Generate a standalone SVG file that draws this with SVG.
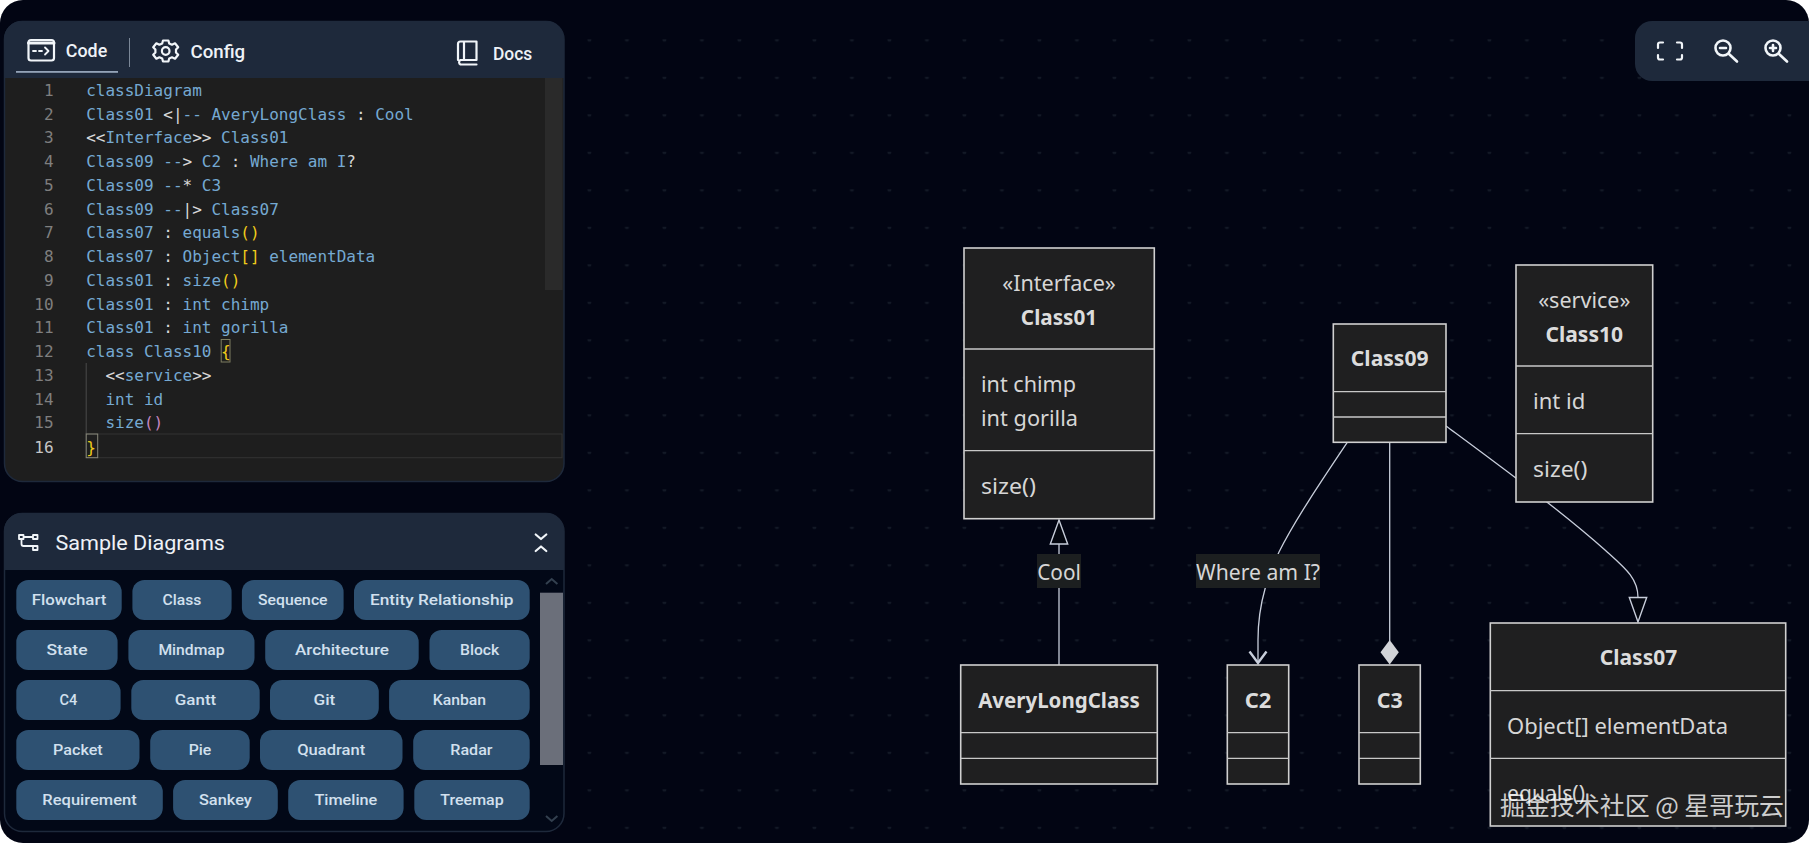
<svg xmlns="http://www.w3.org/2000/svg" width="1809" height="843" viewBox="0 0 1809 843">
<defs>
<pattern id="dots" patternUnits="userSpaceOnUse" x="26.5" y="1.8" width="37.5" height="37.5"><circle cx="0.8" cy="0.8" r="1.5" fill="#131926"/><circle cx="37.5" cy="0.8" r="1.5" fill="#131926"/></pattern>
</defs>
<style>
.box{fill:#1f1f20;stroke:#d0d0d0;stroke-width:1.6}
.div{stroke:#c8c8c8;stroke-width:1.3;fill:none}
.dt{font-family:"Noto Sans",sans-serif;font-size:21px;fill:#d6d6d6}
.dh{font-family:"Noto Sans",sans-serif;font-size:21px;font-weight:700;fill:#dcdcdc;text-anchor:middle}
.ds{font-family:"Noto Sans",sans-serif;font-size:21px;fill:#d6d6d6;text-anchor:middle}
.edge{fill:none;stroke:#c8cedb;stroke-width:1.3}
.head{fill:#03060f;stroke:#c8cedb;stroke-width:1.4}
.lb{fill:#1c1f20}
.code{font-family:"DejaVu Sans Mono",monospace;font-size:16px;fill:#75a9d2;white-space:pre}
.w{fill:#d8d8d8}.y{fill:#f0cc1a}.p{fill:#c586c0}
.ln{font-family:"DejaVu Sans Mono",monospace;font-size:16px;fill:#7f7f7f;text-anchor:end}
.ui{font-family:Roboto,sans-serif;font-size:18px;font-weight:500;fill:#eef2f7}
.btn{fill:#2e5172}
.bt{font-family:Roboto,sans-serif;font-size:15.500px;font-weight:500;fill:#d2e0ee;text-anchor:middle}
.ic{fill:none;stroke:#f1f5f9;stroke-width:2.200;stroke-linecap:round;stroke-linejoin:round}
</style>

<rect width="1809" height="843" fill="#ffffff"/>
<rect width="1809" height="843" rx="23" fill="#020513"/>
<rect x="575" y="20" width="1234" height="823" fill="url(#dots)"/>

<g id="code-panel">
<rect x="4.500" y="21.500" width="559.500" height="460" rx="18" fill="#1e1e1e" stroke="#1e293b" stroke-width="1.500"/>
<path d="M4 78V39a18 18 0 0 1 18-18H546a18 18 0 0 1 18 18V78Z" fill="#1e293b"/>
<rect x="545" y="78" width="17.500" height="212" fill="#2a2a2a"/>
<rect x="16" y="71" width="102" height="1.800" fill="#94a3b8"/>
<rect x="129" y="38" width="1" height="29" fill="#7b8797"/>
<rect x="28.500" y="40" width="25.500" height="20.500" rx="2.500" class="ic"/>
<path d="M28.500 43H54" class="ic" style="stroke-width:3"/>
<path d="M33 51H36M39 51H42M45 47.500L48.500 51L45 54.500" class="ic" style="stroke-width:1.800"/>
<text x="65.800" y="56.500" class="ui" textLength="41.400" lengthAdjust="spacingAndGlyphs">Code</text>
<circle cx="165.700" cy="51" r="3.800" class="ic"/>
<path d="M163 40.500h5.400l.8 3 2.800 1.200 3-1.400 3.200 4-2.200 2.300v2.800l2.200 2.300-3.200 4-3-1.400-2.800 1.200-.8 3h-5.400l-.8-3-2.800-1.200-3 1.400-3.200-4 2.200-2.300v-2.800l-2.200-2.300 3.200-4 3 1.400 2.800-1.200Z" class="ic"/>
<text x="190.500" y="57.500" class="ui" textLength="54.700" lengthAdjust="spacingAndGlyphs">Config</text>
<path d="M458 60V44a2.500 2.500 0 0 1 2.500-2.500H476.500V60H460.500a2.500 2.500 0 0 0 0 4.500H476.500" class="ic"/>
<path d="M464 42V59" class="ic"/>
<text x="493" y="60" class="ui" textLength="39.300" lengthAdjust="spacingAndGlyphs">Docs</text>

<rect x="86.200" y="434" width="475.800" height="23.700" fill="none" stroke="#333" stroke-width="1"/>
<path d="M86.200 363V434" stroke="#4a4a4a" stroke-width="1" fill="none"/>
<rect x="221.200" y="339.500" width="8.800" height="22.500" fill="none" stroke="#7d7d60" stroke-width="1"/>
<rect x="86.200" y="434" width="11.500" height="23.700" fill="none" stroke="#88887a" stroke-width="1"/>

<g id="line-numbers">
<text x="53.600" y="96" class="ln">1</text><text x="53.600" y="120" class="ln">2</text><text x="53.600" y="143" class="ln">3</text><text x="53.600" y="167" class="ln">4</text><text x="53.600" y="191" class="ln">5</text><text x="53.600" y="214.500" class="ln">6</text><text x="53.600" y="238" class="ln">7</text><text x="53.600" y="262" class="ln">8</text><text x="53.600" y="285.500" class="ln">9</text><text x="53.600" y="309.500" class="ln">10</text><text x="53.600" y="333" class="ln">11</text><text x="53.600" y="357" class="ln">12</text><text x="53.600" y="381" class="ln">13</text><text x="53.600" y="404.500" class="ln">14</text><text x="53.600" y="428" class="ln">15</text><text x="53.600" y="452.500" class="ln" style="fill:#c6c6c6">16</text>
</g>
<text x="86.200" y="96" class="code" xml:space="preserve">classDiagram</text>
<text x="86.200" y="120" class="code" xml:space="preserve">Class01 <tspan class="w">&lt;|</tspan>-- AveryLongClass <tspan class="w">:</tspan> Cool</text>
<text x="86.200" y="143" class="code" xml:space="preserve"><tspan class="w">&lt;&lt;</tspan>Interface<tspan class="w">&gt;&gt;</tspan> Class01</text>
<text x="86.200" y="167" class="code" xml:space="preserve">Class09 --<tspan class="w">&gt;</tspan> C2 <tspan class="w">:</tspan> Where am I<tspan class="w">?</tspan></text>
<text x="86.200" y="191" class="code" xml:space="preserve">Class09 --<tspan class="w">*</tspan> C3</text>
<text x="86.200" y="214.500" class="code" xml:space="preserve">Class09 --<tspan class="w">|&gt;</tspan> Class07</text>
<text x="86.200" y="238" class="code" xml:space="preserve">Class07 <tspan class="w">:</tspan> equals<tspan class="y">()</tspan></text>
<text x="86.200" y="262" class="code" xml:space="preserve">Class07 <tspan class="w">:</tspan> Object<tspan class="y">[]</tspan> elementData</text>
<text x="86.200" y="285.500" class="code" xml:space="preserve">Class01 <tspan class="w">:</tspan> size<tspan class="y">()</tspan></text>
<text x="86.200" y="309.500" class="code" xml:space="preserve">Class01 <tspan class="w">:</tspan> int chimp</text>
<text x="86.200" y="333" class="code" xml:space="preserve">Class01 <tspan class="w">:</tspan> int gorilla</text>
<text x="86.200" y="357" class="code" xml:space="preserve">class Class10 <tspan class="y">{</tspan></text>
<text x="86.200" y="381" class="code" xml:space="preserve">  <tspan class="w">&lt;&lt;</tspan>service<tspan class="w">&gt;&gt;</tspan></text>
<text x="86.200" y="404.500" class="code" xml:space="preserve">  int id</text>
<text x="86.200" y="428" class="code" xml:space="preserve">  size<tspan class="p">()</tspan></text>
<text x="86.200" y="452.500" class="code" xml:space="preserve"><tspan class="y">}</tspan></text>
</g>

<g id="sample-panel">
<rect x="4.500" y="513.500" width="559.500" height="318" rx="18" fill="#020817" stroke="#1e293b" stroke-width="1.500"/>
<path d="M4 570V531a18 18 0 0 1 18-18H546a18 18 0 0 1 18 18V570Z" fill="#1e293b"/>
<path d="M19 535h4.500v4h-4.500ZM33 535h4.500v4h-4.500ZM33 546h4.500v4h-4.500ZM21.500 539v5q0 2 2 2h9.500M23.500 537h9.500" class="ic" style="stroke-width:1.800"/>
<text x="55.500" y="550" class="ui" style="font-size:20px;font-weight:400" textLength="169.500" lengthAdjust="spacingAndGlyphs">Sample Diagrams</text>
<path d="M535.700 534.500l5.300 4.500 5.300-4.500M535.700 551l5.300-4.500 5.300 4.500" class="ic"/>
<rect x="540" y="592.700" width="23" height="172.300" fill="#6b6f7a"/>
<path d="M546 584l5.700-5 5.700 5M546 816l5.700 5 5.700-5" fill="none" stroke="#33404f" stroke-width="2"/>
<g id="buttons">
<rect class="btn" x="16.300" y="580" width="105.400" height="40" rx="12"/><text class="bt" x="69" y="605" textLength="74.700" lengthAdjust="spacingAndGlyphs">Flowchart</text>
<rect class="btn" x="132.400" y="580" width="99.200" height="40" rx="12"/><text class="bt" x="182" y="605" textLength="38.800" lengthAdjust="spacingAndGlyphs">Class</text>
<rect class="btn" x="241.900" y="580" width="101.700" height="40" rx="12"/><text class="bt" x="292.800" y="605" textLength="69.500" lengthAdjust="spacingAndGlyphs">Sequence</text>
<rect class="btn" x="354" y="580" width="175.700" height="40" rx="12"/><text class="bt" x="441.800" y="605" textLength="143.500" lengthAdjust="spacingAndGlyphs">Entity Relationship</text>
<rect class="btn" x="16.300" y="630" width="101.300" height="40" rx="12"/><text class="bt" x="67" y="655" textLength="41" lengthAdjust="spacingAndGlyphs">State</text>
<rect class="btn" x="128.400" y="630" width="126.100" height="40" rx="12"/><text class="bt" x="191.500" y="655" textLength="66.200" lengthAdjust="spacingAndGlyphs">Mindmap</text>
<rect class="btn" x="265.200" y="630" width="153.500" height="40" rx="12"/><text class="bt" x="342" y="655" textLength="94" lengthAdjust="spacingAndGlyphs">Architecture</text>
<rect class="btn" x="429.500" y="630" width="100.200" height="40" rx="12"/><text class="bt" x="479.600" y="655" textLength="39.200" lengthAdjust="spacingAndGlyphs">Block</text>
<rect class="btn" x="16.300" y="680" width="104.300" height="40" rx="12"/><text class="bt" x="68.400" y="705" textLength="17.800" lengthAdjust="spacingAndGlyphs">C4</text>
<rect class="btn" x="131.300" y="680" width="128.400" height="40" rx="12"/><text class="bt" x="195.500" y="705" textLength="41.400" lengthAdjust="spacingAndGlyphs">Gantt</text>
<rect class="btn" x="270" y="680" width="108.800" height="40" rx="12"/><text class="bt" x="324.400" y="705" textLength="21.800" lengthAdjust="spacingAndGlyphs">Git</text>
<rect class="btn" x="389.100" y="680" width="140.600" height="40" rx="12"/><text class="bt" x="459.400" y="705" textLength="53.300" lengthAdjust="spacingAndGlyphs">Kanban</text>
<rect class="btn" x="16.300" y="730" width="123.200" height="40" rx="12"/><text class="bt" x="77.900" y="755" textLength="49.600" lengthAdjust="spacingAndGlyphs">Packet</text>
<rect class="btn" x="150.200" y="730" width="99.500" height="40" rx="12"/><text class="bt" x="200" y="755" textLength="22.600" lengthAdjust="spacingAndGlyphs">Pie</text>
<rect class="btn" x="260" y="730" width="142.500" height="40" rx="12"/><text class="bt" x="331.200" y="755" textLength="68" lengthAdjust="spacingAndGlyphs">Quadrant</text>
<rect class="btn" x="413.200" y="730" width="116.500" height="40" rx="12"/><text class="bt" x="471.400" y="755" textLength="42.200" lengthAdjust="spacingAndGlyphs">Radar</text>
<rect class="btn" x="16.300" y="780" width="146.500" height="40" rx="12"/><text class="bt" x="89.500" y="805" textLength="94.300" lengthAdjust="spacingAndGlyphs">Requirement</text>
<rect class="btn" x="173.100" y="780" width="104.700" height="40" rx="12"/><text class="bt" x="225.400" y="805" textLength="52.900" lengthAdjust="spacingAndGlyphs">Sankey</text>
<rect class="btn" x="288.200" y="780" width="115.400" height="40" rx="12"/><text class="bt" x="345.900" y="805" textLength="62.900" lengthAdjust="spacingAndGlyphs">Timeline</text>
<rect class="btn" x="414.300" y="780" width="115.400" height="40" rx="12"/><text class="bt" x="472" y="805" textLength="63.300" lengthAdjust="spacingAndGlyphs">Treemap</text>
</g>
</g>

<g id="toolbar">
<path d="M1809 21H1652a17 17 0 0 0-17 17V64a17 17 0 0 0 17 17H1809Z" fill="#1e293b"/>
<path d="M1658 48V44.500a2 2 0 0 1 2-2H1663M1677 42.500H1680a2 2 0 0 1 2 2V48M1682 55V57.500a2 2 0 0 1-2 2H1677M1663 59.500H1660a2 2 0 0 1-2-2V55" class="ic"/>
<circle cx="1723" cy="48" r="7.500" class="ic" style="stroke-width:2.600"/><path d="M1720 48H1726M1729 54L1737 61.500" class="ic" style="stroke-width:2.600"/>
<circle cx="1773" cy="48" r="7.500" class="ic" style="stroke-width:2.600"/><path d="M1770 48H1776M1773 45V51M1779 54L1787 61.500" class="ic" style="stroke-width:2.600"/>
</g>

<g id="connectors">
<path class="edge" d="M1059 544V665"/>
<path class="head" d="M1059 520L1067.700 544H1050.300Z"/>
<path class="edge" d="M1347.500 442C1322 480 1295 520 1279 552C1270 572 1258 600 1258 640L1258 662"/>
<path d="M1249.500 651.500L1258 663L1266.500 651.500" fill="none" stroke="#c8cedb" stroke-width="2.400"/>
<path class="edge" d="M1389.700 442V641"/>
<path d="M1389.700 640L1398.800 652.300L1389.700 664.500L1380.500 652.300Z" fill="#d2d4d8"/>
<path class="edge" d="M1446 426C1500 466 1560 510 1605 550C1625 568 1638 578 1638 597.500"/>
<path class="head" d="M1638 622L1629.300 597.500H1646.700Z"/>
</g>

<g id="edge-labels">
<g id="label-cool"><rect class="lb" x="1037" y="554" width="44" height="34"/><text class="ds" x="1059" y="580" textLength="43.700" lengthAdjust="spacingAndGlyphs">Cool</text></g>
<g id="label-where"><rect class="lb" x="1196" y="554" width="124" height="34"/><text class="ds" x="1258" y="580" textLength="124" lengthAdjust="spacingAndGlyphs">Where am I?</text></g>
</g>

<g id="Class01">
<rect class="box" x="964" y="248" width="190.300" height="270.700"/>
<path class="div" d="M964 349H1154M964 450.700H1154"/>
<text class="ds" x="1059" y="291" textLength="113.700" lengthAdjust="spacingAndGlyphs">«Interface»</text>
<text class="dh" x="1059" y="324.500" textLength="76.300" lengthAdjust="spacingAndGlyphs">Class01</text>
<text class="dt" x="981" y="392" textLength="95" lengthAdjust="spacingAndGlyphs">int chimp</text>
<text class="dt" x="981" y="425.700" textLength="97" lengthAdjust="spacingAndGlyphs">int gorilla</text>
<text class="dt" x="981" y="494" textLength="55" lengthAdjust="spacingAndGlyphs">size()</text>
</g>
<g id="AveryLongClass">
<rect class="box" x="960.700" y="665" width="196.600" height="119"/>
<path class="div" d="M961 732.700H1157M961 758.300H1157"/>
<text class="dh" x="1059" y="707.500" textLength="161.700" lengthAdjust="spacingAndGlyphs">AveryLongClass</text>
</g>
<g id="C2">
<rect class="box" x="1227.300" y="665" width="61.400" height="119"/>
<path class="div" d="M1227 732.700H1289M1227 758.300H1289"/>
<text class="dh" x="1258" y="707.500" textLength="26.700" lengthAdjust="spacingAndGlyphs">C2</text>
</g>
<g id="C3">
<rect class="box" x="1359" y="665" width="61.300" height="119"/>
<path class="div" d="M1359 732.700H1420M1359 758.300H1420"/>
<text class="dh" x="1389.700" y="707.500" textLength="26" lengthAdjust="spacingAndGlyphs">C3</text>
</g>
<g id="Class09">
<rect class="box" x="1333.300" y="324" width="112.700" height="118.300"/>
<path class="div" d="M1333 391.700H1446M1333 417H1446"/>
<text class="dh" x="1389.700" y="366.300" textLength="77.700" lengthAdjust="spacingAndGlyphs">Class09</text>
</g>
<g id="Class10">
<rect class="box" x="1516" y="265" width="136.700" height="237"/>
<path class="div" d="M1516 366H1652.700M1516 433.700H1652.700"/>
<text class="ds" x="1584.300" y="307.700" textLength="92.300" lengthAdjust="spacingAndGlyphs">«service»</text>
<text class="dh" x="1584.300" y="341.500" textLength="77.700" lengthAdjust="spacingAndGlyphs">Class10</text>
<text class="dt" x="1533" y="409" textLength="52.300" lengthAdjust="spacingAndGlyphs">int id</text>
<text class="dt" x="1533" y="477.300" textLength="54.300" lengthAdjust="spacingAndGlyphs">size()</text>
</g>
<g id="Class07">
<rect class="box" x="1490.300" y="623" width="295.400" height="203"/>
<path class="div" d="M1490 690.700H1785.700M1490 758.300H1785.700"/>
<text class="dh" x="1638.500" y="665.300" textLength="77.300" lengthAdjust="spacingAndGlyphs">Class07</text>
<text class="dt" x="1507" y="734" textLength="221" lengthAdjust="spacingAndGlyphs">Object[] elementData</text>
<text class="dt" x="1507" y="800.700" textLength="78" lengthAdjust="spacingAndGlyphs">equals()</text>
</g>
<text id="watermark" x="1500" y="815" font-family="'Noto Sans CJK SC','Noto Sans',sans-serif" font-size="24.500" fill="#ffffff" fill-opacity=".78" textLength="284" lengthAdjust="spacingAndGlyphs">掘金技术社区 @ 星哥玩云</text>
</svg>
